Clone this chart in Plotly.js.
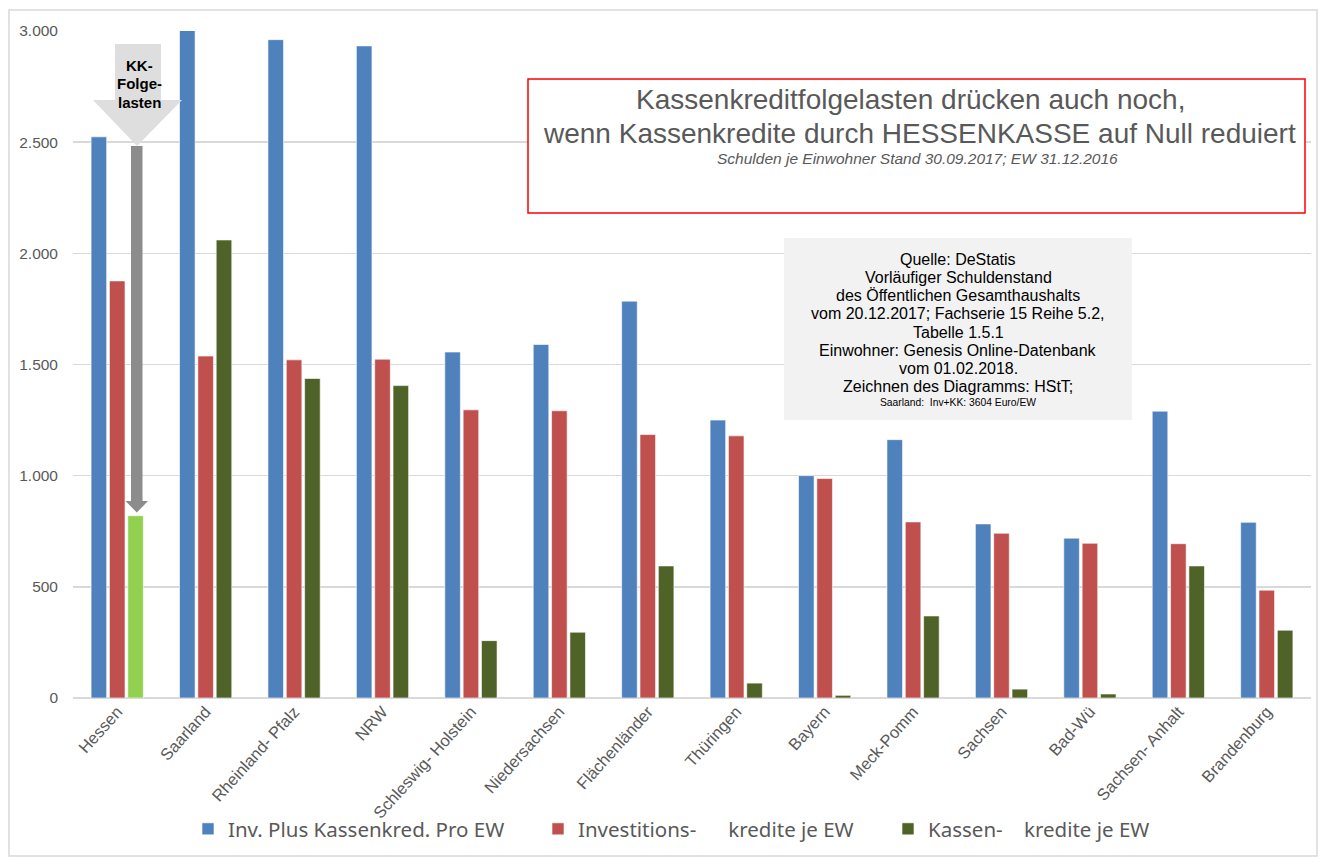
<!DOCTYPE html>
<html>
<head>
<meta charset="utf-8">
<script src="https://cdn.plot.ly/plotly-3.0.1.min.js"></script>
<style>
  html, body { margin: 0; padding: 0; background: #ffffff; }
  #chart { width: 1322px; height: 859px; }
</style>
</head>
<body>
<div id="chart"></div>
<script>
// ---- Data (Euro je Einwohner) ----
const laender = ["Hessen", "Saarland", "Rheinland- Pfalz", "NRW", "Schleswig- Holstein",
  "Niedersachsen", "Flächenländer", "Thüringen", "Bayern", "Meck-Pomm", "Sachsen",
  "Bad-Wü", "Sachsen- Anhalt", "Brandenburg"];
const invPlusKassen = [2524, 3604, 2961, 2933, 1556, 1590, 1785, 1250, 1000, 1162, 783, 719, 1290, 790];
const investKredite = [1876, 1538, 1521, 1524, 1296, 1292, 1185, 1179, 987, 792, 741, 696, 694, 485];
const kassenKredite = [820, 2060, 1437, 1405, 258, 296, 594, 67, 12, 369, 40, 18, 594, 305];
const seriesNames = ["Inv. Plus Kassenkred. Pro EW",
  "Investitions-\u00a0\u00a0\u00a0\u00a0\u00a0 kredite je EW",
  "Kassen-\u00a0\u00a0\u00a0 kredite je EW"];
const yTicks = [0, 500, 1000, 1500, 2000, 2500, 3000];
const titleLines = ["Kassenkreditfolgelasten drücken auch noch,",
  "wenn Kassenkredite durch HESSENKASSE auf Null reduiert"];
const subTitle = "Schulden je Einwohner Stand 30.09.2017; EW 31.12.2016";
const sourceLines = ["Quelle: DeStatis", "Vorläufiger Schuldenstand", "des Öffentlichen Gesamthaushalts",
  "vom 20.12.2017; Fachserie 15 Reihe 5.2,", "Tabelle 1.5.1", "Einwohner: Genesis Online-Datenbank",
  "vom 01.02.2018.", "Zeichnen des Diagramms: HStT;"];
const sourceNote = "Saarland:\u00a0 Inv+KK: 3604 Euro/EW";
const calloutLines = ["KK-", "Folge-", "lasten"];

// ---- Layout helpers ----
const W = 1322, H = 859;
const M = {l: 73, r: 11, t: 31, b: 161};
const PW = W - M.l - M.r, PH = H - M.t - M.b;
const px = x => (x - M.l) / PW;
const py = y => (H - M.b - y) / PH;
const path = pts => "M" + pts.map(p => px(p[0]).toFixed(5) + "," + py(p[1]).toFixed(5)).join(" L") + " Z";
const FONT = "Liberation Sans, Arial, sans-serif";

// Kassenkredite trace: Hessen highlighted in light green; Hessen placed last in the
// trace data (category order is fixed by categoryarray) so the legend swatch is dark green.
const kOrder = laender.map((_, i) => (i + 1) % laender.length);
const kassenX = kOrder.map(i => laender[i]);
const kassenY = kOrder.map(i => kassenKredite[i]);
const kassenColors = kOrder.map(i => i === 0 ? "#92d050" : "#4f6228");
const edge = {color: "rgba(255,255,255,0.6)", width: 1};

const traces = [
  {type: "bar", name: seriesNames[0], x: laender, y: invPlusKassen, marker: {color: "#4f81bd", line: edge}},
  {type: "bar", name: seriesNames[1], x: laender, y: investKredite, marker: {color: "#c0504d", line: edge}},
  {type: "bar", name: seriesNames[2], x: kassenX, y: kassenY, marker: {color: kassenColors, line: edge}}
];

const annotations = [];
annotations.push({xref: "paper", yref: "paper", x: px(910), y: py(100), xanchor: "center", yanchor: "middle",
  showarrow: false, text: titleLines[0], font: {family: FONT, size: 28, color: "#595959"}});
annotations.push({xref: "paper", yref: "paper", x: px(920), y: py(133), xanchor: "center", yanchor: "middle",
  showarrow: false, text: titleLines[1], font: {family: FONT, size: 28, color: "#595959"}});
annotations.push({xref: "paper", yref: "paper", x: px(917), y: py(158), xanchor: "center", yanchor: "middle",
  showarrow: false, text: "<i>" + subTitle + "</i>", font: {family: FONT, size: 15.5, color: "#595959"}});
sourceLines.forEach((t, i) => annotations.push({xref: "paper", yref: "paper", x: px(958), y: py(259.3 + i * 18.2),
  xanchor: "center", yanchor: "middle", showarrow: false, text: t, font: {family: FONT, size: 16, color: "#000000"}}));
annotations.push({xref: "paper", yref: "paper", x: px(958), y: py(403), xanchor: "center", yanchor: "middle",
  showarrow: false, text: sourceNote, font: {family: FONT, size: 10.3, color: "#000000"}});
calloutLines.forEach((t, i) => annotations.push({xref: "paper", yref: "paper", x: px(139), y: py(65 + i * 18.7),
  xanchor: "center", yanchor: "middle", showarrow: false, text: "<b>" + t + "</b>",
  font: {family: FONT, size: 15, color: "#000000"}}));

const layout = {
  width: W, height: H,
  margin: M,
  paper_bgcolor: "#ffffff", plot_bgcolor: "#ffffff",
  separators: ",.",
  font: {family: FONT, color: "#595959"},
  barmode: "group", bargap: 0.378, bargroupgap: 0.15,
  showlegend: true,
  legend: {orientation: "h", xref: "container", yref: "container",
    x: 188 / W, xanchor: "left", y: 1 - 829 / H, yanchor: "middle",
    entrywidth: 305, entrywidthmode: "pixels",
    font: {family: "Noto Sans, sans-serif", size: 20.5, color: "#595959"},
    bgcolor: "rgba(0,0,0,0)", traceorder: "normal"},
  xaxis: {type: "category", categoryorder: "array", categoryarray: laender,
    tickangle: -48, showgrid: false, showline: false, zeroline: false, automargin: false,
    ticks: "", tickfont: {family: FONT, size: 16.5, color: "#595959"}, fixedrange: true},
  yaxis: {range: [0, 3000], tickvals: yTicks, tickformat: ",d", showgrid: true, automargin: false,
    gridcolor: "#d9d9d9", gridwidth: 1.5, zeroline: true, zerolinecolor: "#d9d9d9", zerolinewidth: 1.5,
    showline: false, ticks: "", ticklabelstandoff: 14,
    tickfont: {family: FONT, size: 15.5, color: "#595959"}, fixedrange: true},
  shapes: [
    {type: "rect", xref: "paper", yref: "paper", x0: px(9), x1: px(1317), y0: py(856), y1: py(10),
     line: {color: "#d9d9d9", width: 1.5}, fillcolor: "rgba(0,0,0,0)", layer: "below"},
    {type: "rect", xref: "paper", yref: "paper", x0: px(528), x1: px(1305), y0: py(213), y1: py(79),
     line: {color: "#ff0000", width: 1.5}, fillcolor: "#ffffff", layer: "above"},
    {type: "rect", xref: "paper", yref: "paper", x0: px(784), x1: px(1132), y0: py(420), y1: py(238),
     line: {width: 0}, fillcolor: "#f2f2f2", layer: "above"},
    {type: "path", xref: "paper", yref: "paper",
     path: path([[115, 44], [161, 44], [161, 100], [182, 100], [137, 146], [93, 100], [115, 100]]),
     line: {width: 0}, fillcolor: "#dedede", layer: "above"},
    {type: "path", xref: "paper", yref: "paper",
     path: path([[131, 146], [142.5, 146], [142.5, 501], [148, 501], [136.8, 512.5], [125.5, 501], [131, 501]]),
     line: {width: 0}, fillcolor: "#8c8c8c", layer: "above"}
  ],
  annotations: annotations
};

Plotly.newPlot("chart", traces, layout, {displayModeBar: false, staticPlot: true});
</script>
</body>
</html>
